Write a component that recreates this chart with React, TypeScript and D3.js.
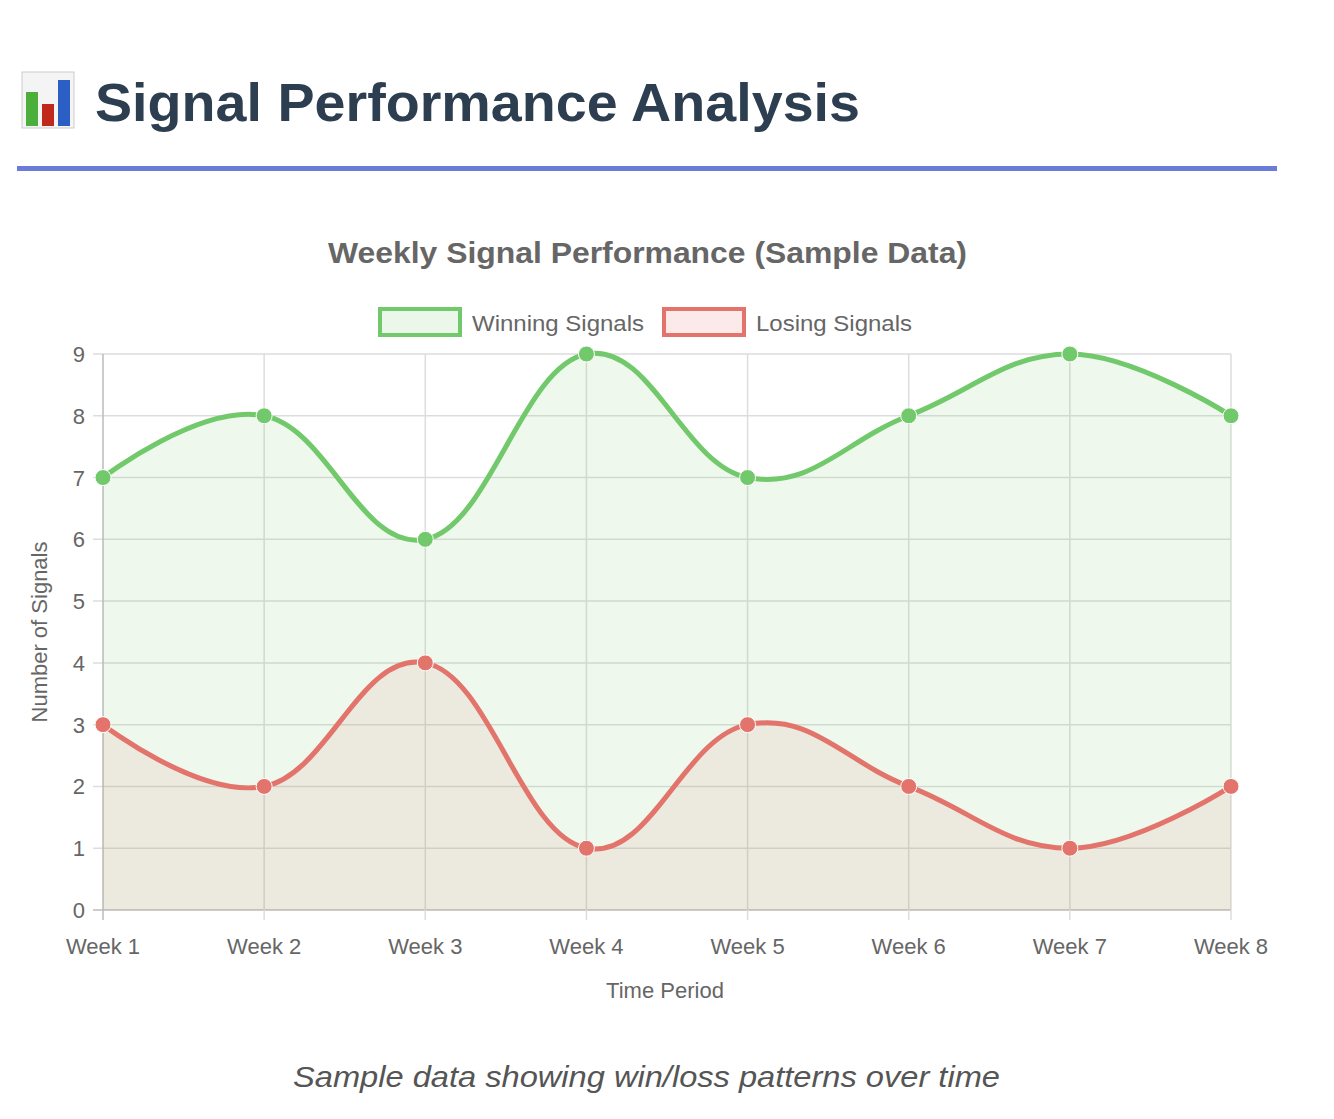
import * as d3 from 'd3';

const weeks = ['Week 1', 'Week 2', 'Week 3', 'Week 4', 'Week 5', 'Week 6', 'Week 7', 'Week 8'];
const winning = [7, 8, 6, 9, 7, 8, 9, 8];
const losing = [3, 2, 4, 1, 3, 2, 1, 2];
const yTicks = [0, 1, 2, 3, 4, 5, 6, 7, 8, 9];

const GREEN = '#72c96b';
const RED = '#e2746c';
const FONT = 'Helvetica, Arial, "Liberation Sans", sans-serif';

export default function App() {
  const W = 1334, H = 1119;
  const left = 103, right = 1231, top = 354, bottom = 910;
  const x = d3.scalePoint<string>().domain(weeks).range([left, right]);
  const y = d3.scaleLinear().domain([0, 9]).range([bottom, top]);
  const curve = d3.curveCardinal.tension(-0.2);

  const line = d3.line<number>().x((_, i) => x(weeks[i])!).y((d) => y(d)).curve(curve);
  const area = d3.area<number>().x((_, i) => x(weeks[i])!).y0(y(0)).y1((d) => y(d)).curve(curve);

  const series = [
    { name: 'Winning Signals', data: winning, color: GREEN, fill: 'rgba(114,201,107,0.12)', len: 172 },
    { name: 'Losing Signals', data: losing, color: RED, fill: 'rgba(226,116,108,0.1)', len: 156 },
  ];

  return (
    <svg width={W} height={H} style={{ position: 'absolute', left: 0, top: 0, fontFamily: FONT }}>
      <rect width={W} height={H} fill="#fff" />
      <g transform="translate(22,72)">
        <rect width={52} height={56} fill="#f4f4f4" stroke="#ccc" />
        <rect x={4} y={20} width={12} height={34} fill="#4caf3c" />
        <rect x={20} y={32} width={12} height={22} fill="#c0281c" />
        <rect x={36} y={8} width={12} height={46} fill="#2b5fc4" />
      </g>
      <text x={95} y={121} fontSize={54} fontWeight="bold" fill="#2c3e50" textLength={765} lengthAdjust="spacingAndGlyphs">
        Signal Performance Analysis
      </text>
      <rect x={17} y={166} width={1260} height={5} fill="#6a7bd8" />

      <text x={328} y={263} fontSize={29} fontWeight="bold" fill="#666" textLength={639} lengthAdjust="spacingAndGlyphs">
        Weekly Signal Performance (Sample Data)
      </text>

      {series.map((s, i) => {
        const lx = i === 0 ? 380 : 664;
        return (
          <g key={s.name}>
            <rect x={lx} y={309} width={80} height={26} fill={i === 0 ? 'rgba(114,201,107,0.15)' : 'rgba(226,116,108,0.15)'} stroke={s.color} strokeWidth={4} />
            <text x={lx + 92} y={331} fontSize={22} fill="#666" textLength={s.len} lengthAdjust="spacingAndGlyphs">{s.name}</text>
          </g>
        );
      })}

      {yTicks.map((t) => (
        <g key={t}>
          <line x1={left - 10} x2={right} y1={y(t)} y2={y(t)} stroke={t === 0 ? '#bbb' : '#ddd'} strokeWidth={1.5} />
          <text x={left - 18} y={y(t) + 8} textAnchor="end" fontSize={22} fill="#666">{t}</text>
        </g>
      ))}
      {weeks.map((w) => (
        <g key={w}>
          <line x1={x(w)} x2={x(w)} y1={top} y2={bottom + 10} stroke={w === weeks[0] ? '#bbb' : '#ddd'} strokeWidth={1.5} />
          <text x={x(w)} y={954} textAnchor="middle" fontSize={22} fill="#666">{w}</text>
        </g>
      ))}
      <text x={665} y={998} textAnchor="middle" fontSize={22} fill="#666">Time Period</text>
      <text transform={`translate(47,${(top + bottom) / 2}) rotate(-90)`} textAnchor="middle" fontSize={22} fill="#666">
        Number of Signals
      </text>

      {series.map((s) => (
        <path key={s.name + 'a'} d={area(s.data)!} fill={s.fill} />
      ))}
      {series.map((s) => (
        <g key={s.name}>
          <path d={line(s.data)!} fill="none" stroke={s.color} strokeWidth={5} />
          {s.data.map((v, i) => (
            <circle key={i} cx={x(weeks[i])} cy={y(v)} r={8} fill={s.color} stroke="#fff" strokeWidth={1} />
          ))}
        </g>
      ))}

      <text x={293} y={1087} fontSize={30} fontStyle="italic" fill="#555" textLength={707} lengthAdjust="spacingAndGlyphs">
        Sample data showing win/loss patterns over time
      </text>
    </svg>
  );
}
